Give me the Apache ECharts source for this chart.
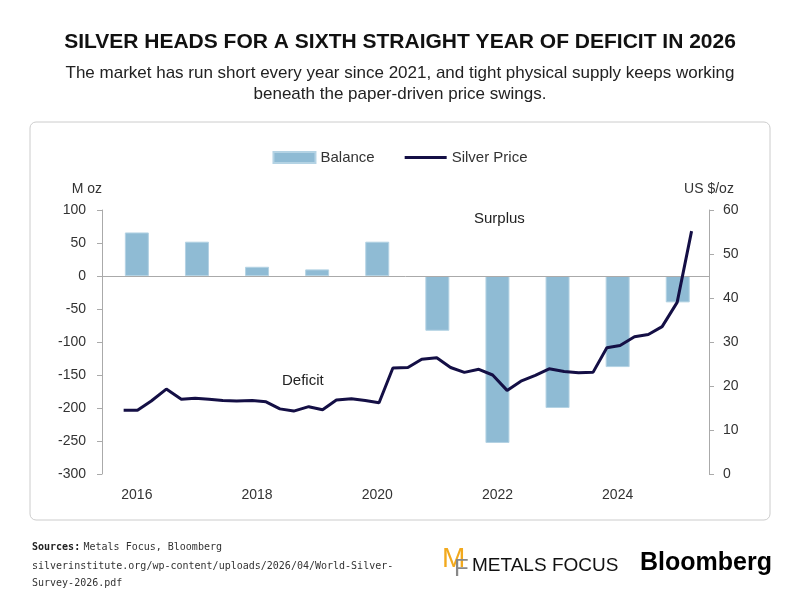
<!DOCTYPE html>
<html><head><meta charset="utf-8">
<script src="https://cdn.jsdelivr.net/npm/echarts@6/dist/echarts.min.js"></script>
<style>html,body{margin:0;padding:0;background:#fff}#c{width:800px;height:600px}</style>
</head><body><div id="c"></div>
<script>
const barYears = [2016,2017,2018,2019,2020,2021,2022,2023,2024,2025];
const balance = [66,52,14,10,52,-83,-253,-200,-138,-40];
const priceX = [2015.78,2016.01,2016.24,2016.49,2016.74,2016.97,2017.20,2017.43,2017.66,2017.92,2018.15,2018.38,2018.61,2018.86,2019.09,2019.32,2019.57,2019.80,2020.03,2020.26,2020.51,2020.74,2020.99,2021.22,2021.45,2021.69,2021.92,2022.16,2022.39,2022.63,2022.86,2023.11,2023.35,2023.59,2023.82,2024.04,2024.28,2024.51,2024.74,2024.99,2025.23];
const price = [14.5,14.5,16.6,19.3,17.0,17.2,17.0,16.7,16.6,16.7,16.4,14.8,14.3,15.3,14.6,16.8,17.1,16.7,16.2,24.1,24.2,26.1,26.4,24.2,23.1,23.8,22.5,19.0,21.1,22.4,23.9,23.3,23.0,23.1,28.7,29.2,31.2,31.7,33.5,39.0,55.2];
const xTicks = [2016,2018,2020,2022,2024];

const chart = echarts.init(document.getElementById('c'));
const F = '"Liberation Sans", Arial, sans-serif';
const M = '"DejaVu Sans Mono", monospace';
chart.setOption({
  animation:false,
  textStyle:{fontFamily:F},
  title:[
    {text:'SILVER HEADS FOR A SIXTH STRAIGHT YEAR OF DEFICIT IN 2026',left:'center',top:27,textStyle:{fontSize:21,fontWeight:'bold',color:'#111',fontFamily:F}}
  ],
  legend:{top:145,left:'center',itemGap:30,textStyle:{fontSize:15,color:'#333'},itemWidth:42,itemHeight:11,
    data:[{name:'Balance',icon:'rect'},{name:'Silver Price',icon:'path://M0,0H42V3H0Z',itemStyle:{color:'#140f45'}}]},
  grid:{left:102,right:91,top:210,bottom:126},
  xAxis:{type:'value',min:2015.42,max:2025.52,
    axisLine:{show:false},axisTick:{show:false},splitLine:{show:false},
    axisLabel:{customValues:xTicks,fontSize:14,color:'#333',margin:14,formatter:v=>String(Math.round(v))}},
  yAxis:[
    {type:'value',min:-300,max:100,interval:50,name:'M oz',nameGap:14,nameTextStyle:{fontSize:14,color:'#333',align:'right'},
     axisLine:{show:true,lineStyle:{color:'#aaa'}},axisTick:{show:true,lineStyle:{color:'#aaa'}},
     splitLine:{show:false},axisLabel:{fontSize:14,color:'#333',margin:16}},
    {type:'value',min:0,max:60,interval:10,name:'US $/oz',nameGap:14,nameTextStyle:{fontSize:14,color:'#333'},
     axisLine:{show:true,lineStyle:{color:'#aaa'}},axisTick:{show:true,lineStyle:{color:'#aaa'}},
     splitLine:{show:false},axisLabel:{fontSize:14,color:'#333',margin:14}}
  ],
  series:[
    {name:'Balance',type:'bar',yAxisIndex:0,barWidth:24,
     itemStyle:{color:'#8fbbd4',borderColor:'#b4d3e4',borderWidth:1},
     data:barYears.map((y,i)=>[y,balance[i]]),
     markLine:{silent:true,symbol:'none',label:{show:false},lineStyle:{color:'#aaa',type:'solid',width:1},data:[{yAxis:0}]}},
    {name:'Silver Price',type:'line',yAxisIndex:1,symbol:'none',z:5,
     lineStyle:{color:'#140f45',width:3},itemStyle:{color:'#140f45'},
     data:priceX.map((x,i)=>[x,price[i]])}
  ],
  graphic:[
    {type:'text',x:400,y:63,style:{text:'The market has run short every year since 2021, and tight physical supply keeps working\nbeneath the paper-driven price swings.',align:'center',fontSize:17,lineHeight:21,fill:'#222',fontFamily:F}},
    {type:'rect',shape:{x:30,y:122,width:740,height:398,r:6},style:{fill:'none',stroke:'#ccc',lineWidth:1},z:-1},
    {type:'text',left:474,top:211,style:{text:'Surplus',fontSize:15,fill:'#222',fontFamily:F}},
    {type:'text',left:282,top:373,style:{text:'Deficit',fontSize:15,fill:'#222',fontFamily:F}},
    {type:'text',left:32,top:541,style:{rich:{b:{fontWeight:'bold',fontFamily:M,fontSize:10,fill:'#222'},n:{fontFamily:M,fontSize:10,fill:'#333'}},text:'{b|Sources:} {n|Metals Focus, Bloomberg}'}},
    {type:'text',left:32,top:558,style:{text:'silverinstitute.org/wp-content/uploads/2026/04/World-Silver-\nSurvey-2026.pdf',fontFamily:M,fontSize:10,lineHeight:17,fill:'#333'}},
    {type:'text',left:442,top:545,style:{text:'M',fontSize:28,fill:'#f2a91d',fontFamily:F}},
    {type:'text',left:454,top:557,style:{text:'F',fontSize:24,fill:'#888',fontFamily:F}},
    {type:'text',left:472,top:556,style:{text:'METALS FOCUS',fontSize:19,fill:'#111',fontFamily:'"Liberation Sans Narrow", "Liberation Sans", sans-serif'}},
    {type:'text',left:640,top:551,style:{text:'Bloomberg',fontSize:25,fontWeight:'bold',fill:'#000',fontFamily:'"Liberation Sans Narrow", "Liberation Sans", sans-serif',letterSpacing:-0.5}}
  ]
});
</script></body></html>
